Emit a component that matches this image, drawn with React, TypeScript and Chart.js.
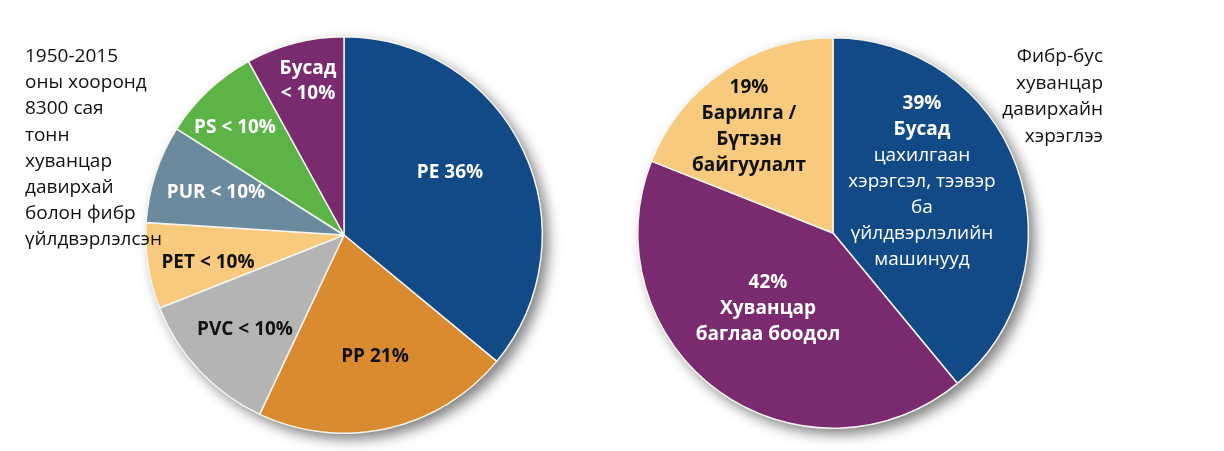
import React, { useEffect, useRef } from "react";
import { Chart, registerables } from "chart.js";

Chart.register(...registerables);

// ---- Data ----
const leftCategories = ["PE", "PP", "PVC", "PET", "PUR", "PS", "Бусад"];
const leftValues = [36, 21, 12, 7, 8, 8, 8];
const leftLabelLines: string[][] = [
  ["PE 36%"],
  ["PP 21%"],
  ["PVC < 10%"],
  ["PET < 10%"],
  ["PUR < 10%"],
  ["PS < 10%"],
  ["Бусад", "< 10%"],
];

const rightCategories = ["Бусад", "Хуванцар баглаа боодол", "Барилга / Бүтээн байгуулалт"];
const rightValues = [39, 42, 19];
const rightLabelLines: string[][] = [
  ["39%", "Бусад", "цахилгаан", "хэрэгсэл, тээвэр", "ба", "үйлдвэрлэлийн", "машинууд"],
  ["42%", "Хуванцар", "баглаа боодол"],
  ["19%", "Барилга /", "Бүтээн", "байгуулалт"],
];
const rightBoldLineCount = [2, 3, 4];

const leftNote = ["1950-2015", "оны хооронд", "8300 сая", "тонн", "хуванцар", "давирхай", "болон фибр", "үйлдвэрлэлсэн"];
const rightNote = ["Фибр-бус", "хуванцар", "давирхайн", "хэрэглээ"];

// ---- Styles ----
const BLUE = "#124a88";
const ORANGE = "#da8b2f";
const GRAY = "#b4b4b4";
const YELLOW = "#f8ca7d";
const SLATE = "#6b8a9d";
const GREEN = "#5db446";
const PURPLE = "#7a2a6f";

const leftColors = [BLUE, ORANGE, GRAY, YELLOW, SLATE, GREEN, PURPLE];
const leftTextColors = ["#fff", "#111", "#111", "#111", "#fff", "#fff", "#fff"];
const leftLabelOffsets = [
  [106, -62],
  [31, 122],
  [-99, 95],
  [-136, 28],
  [-128, -42],
  [-109, -107],
  [-36, -154],
];

const rightColors = [BLUE, PURPLE, YELLOW];
const rightTextColors = ["#fff", "#fff", "#111"];
const rightLabelOffsets = [
  [89, -51],
  [-65, 76],
  [-84, -106],
];

const FONT = "'Open Sans', 'Noto Sans', sans-serif";

type LabelCfg = {
  lines: string[][];
  offsets: number[][];
  colors: string[];
  boldCount: number[];
  lineHeight: number;
};

function makePlugin(cfg: LabelCfg) {
  return {
    id: "pieDecor",
    beforeDatasetsDraw(chart: any) {
      const meta = chart.getDatasetMeta(0);
      const arc = meta.data[0];
      if (!arc) return;
      const { x, y, outerRadius } = arc.getProps(["x", "y", "outerRadius"], true);
      const ctx = chart.ctx;
      ctx.save();
      ctx.shadowColor = "rgba(0,0,0,0.5)";
      ctx.shadowBlur = 13;
      ctx.shadowOffsetX = 6;
      ctx.shadowOffsetY = 6;
      ctx.fillStyle = "#ffffff";
      ctx.beginPath();
      ctx.arc(x, y, outerRadius, 0, Math.PI * 2);
      ctx.fill();
      ctx.restore();
    },
    afterDatasetsDraw(chart: any) {
      const meta = chart.getDatasetMeta(0);
      const arc = meta.data[0];
      if (!arc) return;
      const { x, y } = arc.getProps(["x", "y"], true);
      const ctx = chart.ctx;
      ctx.save();
      ctx.textAlign = "center";
      ctx.textBaseline = "middle";
      cfg.lines.forEach((lines, i) => {
        const [dx, dy] = cfg.offsets[i];
        const n = lines.length;
        lines.forEach((t, j) => {
          const bold = j < cfg.boldCount[i];
          ctx.font = `${bold ? "bold" : "normal"} 19px ${FONT}`;
          ctx.fillStyle = cfg.colors[i];
          const ly = y + dy + (j - (n - 1) / 2) * cfg.lineHeight;
          ctx.fillText(t, x + dx, ly);
        });
      });
      ctx.restore();
    },
  };
}

function PieChart(props: {
  labels: string[];
  values: number[];
  colors: string[];
  pad: number;
  size: number;
  cfg: LabelCfg;
  style: React.CSSProperties;
}) {
  const ref = useRef<HTMLCanvasElement | null>(null);
  useEffect(() => {
    if (!ref.current) return;
    const chart = new Chart(ref.current, {
      type: "pie",
      data: {
        labels: props.labels,
        datasets: [
          {
            data: props.values,
            backgroundColor: props.colors,
            borderColor: "#f4f4ee",
            borderWidth: 1.5,
          },
        ],
      },
      options: {
        animation: false,
        responsive: false,
        maintainAspectRatio: false,
        layout: { padding: props.pad },
        plugins: {
          legend: { display: false },
          tooltip: { enabled: false },
        },
      },
      plugins: [makePlugin(props.cfg)],
    });
    return () => chart.destroy();
  }, []);
  return (
    <canvas
      ref={ref}
      width={props.size}
      height={props.size}
      style={{ position: "absolute", width: props.size, height: props.size, ...props.style }}
    />
  );
}

export default function App() {
  const noteStyle: React.CSSProperties = {
    position: "absolute",
    fontFamily: FONT,
    fontSize: 19,
    lineHeight: "26.2px",
    color: "#111",
    whiteSpace: "nowrap",
  };
  return (
    <div
      style={{
        position: "absolute",
        left: 0,
        top: 0,
        width: 1224,
        height: 451,
        background: "#fff",
        overflow: "hidden",
      }}
    >
      <PieChart
        labels={leftCategories}
        values={leftValues}
        colors={leftColors}
        pad={21}
        size={440}
        style={{ left: 124, top: 15 }}
        cfg={{
          lines: leftLabelLines,
          offsets: leftLabelOffsets,
          colors: leftTextColors,
          boldCount: leftLabelLines.map((l) => l.length),
          lineHeight: 25,
        }}
      />
      <PieChart
        labels={rightCategories}
        values={rightValues}
        colors={rightColors}
        pad={24}
        size={440}
        style={{ left: 613, top: 13 }}
        cfg={{
          lines: rightLabelLines,
          offsets: rightLabelOffsets,
          colors: rightTextColors,
          boldCount: rightBoldLineCount,
          lineHeight: 26,
        }}
      />
      <div style={{ ...noteStyle, left: 25, top: 42 }}>
        {leftNote.map((t, i) => (
          <div key={i}>{t}</div>
        ))}
      </div>
      <div style={{ ...noteStyle, right: 1224 - 1103, top: 42, textAlign: "right", lineHeight: "26.5px" }}>
        {rightNote.map((t, i) => (
          <div key={i}>{t}</div>
        ))}
      </div>
    </div>
  );
}
